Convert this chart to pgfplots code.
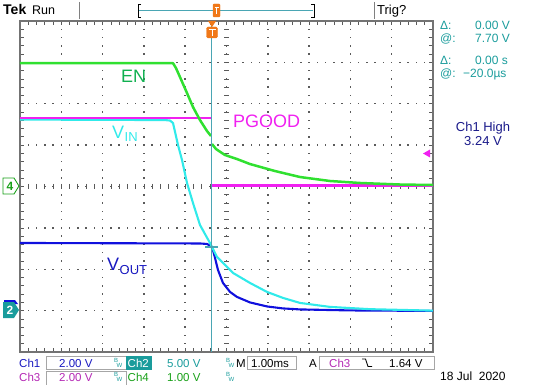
\documentclass[border=0pt]{standalone}
\usepackage{pgfplots}
\pgfplotsset{compat=1.18}
\usepackage{fontspec}
\setmainfont{Liberation Sans}
\definecolor{trgreen}{HTML}{30E030}
\definecolor{lbgreen}{HTML}{10B050}
\definecolor{trmag}{HTML}{F020F0}
\definecolor{trcyan}{HTML}{30EAEA}
\definecolor{trblue}{HTML}{1010DD}
\definecolor{lbblue}{HTML}{1818C0}
\definecolor{tealtx}{HTML}{1A9C9C}
\definecolor{cursorc}{HTML}{4AA6B4}
\definecolor{navy}{HTML}{1A1A8A}
\definecolor{tekorange}{HTML}{F07818}
\definecolor{chfourgreen}{HTML}{18A018}
\definecolor{chthreemag}{HTML}{B428B4}
\definecolor{gridgray}{HTML}{5A5A5A}

% EN before the cursor
\pgfplotstableread{
t v
-5 2.98
-1.295 2.98
-1.223 2.862
-1.126 2.645
-0.956 2.258
-0.811 1.920
-0.642 1.606
-0.472 1.341
-0.375 1.220
}\enA
% EN after the cursor
\pgfplotstableread{
t v
-0.351 1.027
-0.254 0.906
-0.036 0.761
0.254 0.664
0.569 0.543
1.174 0.374
1.780 0.229
2.506 0.133
3.232 0.085
4.200 0.048
5.000 0.036
}\enB
\pgfplotstableread{
t v
-5 1.65
-0.36 1.65
}\pgA
\pgfplotstableread{
t v
-0.36 0.02
5 0.02
}\pgB
\pgfplotstableread{
t v
-5 1.618
-1.489 1.606
-1.368 1.594
-1.295 1.534
-1.174 1.002
-1.077 0.640
-0.956 0.085
-0.811 -0.399
-0.642 -0.930
-0.400 -1.365
-0.230 -1.703
0.157 -2.089
0.569 -2.331
0.981 -2.548
1.368 -2.693
1.780 -2.814
2.506 -2.910
3.475 -2.965
5.000 -3.000
}\vin
\pgfplotstableread{
t v
-5 -1.365
-0.642 -1.377
-0.472 -1.389
-0.375 -1.437
-0.327 -1.534
-0.278 -1.727
-0.206 -2.017
-0.085 -2.331
0.085 -2.548
0.254 -2.669
0.569 -2.802
0.981 -2.899
1.368 -2.947
1.780 -2.971
2.990 -2.995
5.000 -3.007
}\vout

\begin{document}
\begin{tikzpicture}
\path[use as bounding box] (0pt,0pt) rectangle (536pt,-385pt);
% graticule (drawn under the traces)
\begin{scope}[x=1pt,y=1pt]
\foreach \i in {1,...,9} {
  \foreach \k in {1,...,39} {
    \fill[gridgray] ({20+41.3*\i-0.75},{-21-8.275*\k-0.75}) rectangle ++(1.5,1.5);
  }
}
\foreach \j in {1,...,7} {
  \foreach \k in {1,...,49} {
    \fill[gridgray] ({20+8.26*\k-0.75},{-21-41.375*\j-0.75}) rectangle ++(1.5,1.5);
  }
}
% centre-line ticks
\foreach \k in {1,...,49} {
  \draw[gridgray, line width=0.7pt] ({20+8.26*\k},-184) -- ({20+8.26*\k},-189);
}
\foreach \k in {1,...,39} {
  \draw[gridgray, line width=0.7pt] (224,{-21-8.275*\k}) -- (229,{-21-8.275*\k});
}
% frame ticks
\foreach \k in {1,...,49} {
  \draw[gridgray, line width=0.7pt] ({20+8.26*\k},-21) -- ({20+8.26*\k},-25);
  \draw[gridgray, line width=0.7pt] ({20+8.26*\k},-352) -- ({20+8.26*\k},-348);
}
\foreach \k in {1,...,39} {
  \draw[gridgray, line width=0.7pt] (20,{-21-8.275*\k}) -- (24,{-21-8.275*\k});
  \draw[gridgray, line width=0.7pt] (433,{-21-8.275*\k}) -- (429,{-21-8.275*\k});
}
\end{scope}
\begin{axis}[
  at={(20pt,-352pt)}, anchor=south west,
  scale only axis, width=413pt, height=331pt,
  xmin=-5, xmax=5, ymin=-4, ymax=4,
  xtick=\empty, ytick=\empty,
  axis line style={draw=gray!90!black, line width=1.6pt},
  clip=false,
]
\addplot[trblue, line width=2.1pt, line join=round] table[x=t,y=v] {\vout};
\addplot[trcyan, line width=2.1pt, line join=round] table[x=t,y=v] {\vin};
\addplot[trmag, line width=2.5pt] table[x=t,y=v] {\pgA};
\addplot[trmag, line width=2.5pt] table[x=t,y=v] {\pgB};
\addplot[trgreen, line width=2.5pt, line join=round] table[x=t,y=v] {\enA};
\addplot[trgreen, line width=2.5pt, line join=round] table[x=t,y=v] {\enB};
% cursor
\draw[cursorc, line width=1.2pt] (axis cs:-0.36,-4) -- (axis cs:-0.36,4);
\draw[cursorc, line width=1.2pt] (axis cs:-0.52,-1.46) -- (axis cs:-0.2,-1.46);
\end{axis}

\begin{scope}[x=1pt,y=1pt]
% top bar
\node[anchor=base west, inner sep=0pt, font=\fontsize{14}{14}\selectfont\bfseries] at (3,-15) {Tek};
\node[anchor=base west, inner sep=0pt, font=\fontsize{12.5}{14}\selectfont] at (32,-15) {Run};
\draw[gray, line width=0.8pt] (79,-2) -- (79,-19);
\draw[gray, line width=0.8pt] (374,-2) -- (374,-19);
\node[anchor=base west, inner sep=0pt, font=\fontsize{13}{14}\selectfont] at (377,-15) {Trig?};
\draw[black, line width=0.8pt] (141,-4) -- (138,-4) -- (138,-17) -- (141,-17);
\draw[black, line width=0.8pt] (311,-4) -- (314,-4) -- (314,-17) -- (311,-17);
\draw[cursorc, line width=1.4pt] (139,-10.5) -- (313,-10.5);
\filldraw[tekorange, rounded corners=1pt] (213,-4) rectangle (220,-17);
\draw[white, line width=0.8pt] (214.5,-7) -- (218.5,-7) (216.5,-7) -- (216.5,-14);
% trigger marker on graticule
\fill[tekorange] (208,-21) -- (216,-21) -- (212,-27) -- cycle;
\filldraw[tekorange, rounded corners=1.5pt] (206.5,-27) rectangle (217.5,-38);
\draw[white, line width=1pt] (208.5,-30) -- (215.5,-30) (212,-30) -- (212,-36);
% trigger level arrow
\fill[trmag] (423,-153.5) -- (430,-149.5) -- (430,-157.5) -- cycle;
% channel markers
\filldraw[draw=chfourgreen, fill=white, line width=0.9pt] (3,-178) -- (14,-178) -- (19,-186) -- (14,-194) -- (3,-194) -- cycle;
\node[font=\fontsize{12}{12}\selectfont\bfseries, text=chfourgreen, inner sep=0pt] at (10,-186.5) {4};
\fill[trblue] (4,-300) -- (15,-300) -- (18,-304) -- (4,-304) -- cycle;
\fill[tealtx] (3,-302) -- (14,-302) -- (19,-310) -- (14,-318) -- (3,-318) -- cycle;
\node[font=\fontsize{12}{12}\selectfont\bfseries, text=white, inner sep=0pt] at (10,-310.5) {2};
% labels
\node[anchor=base west, inner sep=0pt, font=\fontsize{18}{18}\selectfont, text=lbgreen] at (121,-83) {EN};
\node[anchor=base west, inner sep=0pt, font=\fontsize{18}{18}\selectfont, text=trmag] at (233,-128) {PGOOD};
\node[anchor=base west, inner sep=0pt, font=\fontsize{18}{18}\selectfont, text=trcyan] at (112,-139) {V};
\node[anchor=base west, inner sep=0pt, font=\fontsize{13}{13}\selectfont, text=trcyan] at (124.5,-142) {IN};
\node[anchor=base west, inner sep=0pt, font=\fontsize{18}{18}\selectfont, text=lbblue] at (107,-270) {V};
\node[anchor=base west, inner sep=0pt, font=\fontsize{13}{13}\selectfont, text=lbblue] at (119.5,-274) {OUT};
% right panel
\begin{scope}[every node/.style={anchor=base west, inner sep=0pt, font=\fontsize{12}{12}\selectfont, text=tealtx}]
\node at (440,-30) {Δ:};
\node at (475,-30) {0.00 V};
\node at (440,-43) {@:};
\node at (475,-43) {7.70 V};
\node at (440,-65) {Δ:};
\node at (475,-65) {0.00 s};
\node at (440,-78) {@:};
\node at (463,-78) {−20.0µs};
\end{scope}
\node[anchor=base, inner sep=0pt, font=\fontsize{13}{13}\selectfont, text=navy] at (483,-132) {Ch1 High};
\node[anchor=base, inner sep=0pt, font=\fontsize{13}{13}\selectfont, text=navy] at (483,-146) {3.24 V};
% footer
\draw[gray!70, line width=0.7pt] (46,-356) rectangle (126,-369.5);
\draw[gray!70, line width=0.7pt] (46,-371) rectangle (126,-385);
\draw[gray!70, line width=0.7pt] (247,-356) rectangle (296,-369.5);
\draw[gray!70, line width=0.7pt] (319,-356) rectangle (434,-369.5);
\fill[tealtx] (126,-356) rectangle (152,-369.5);
\begin{scope}[every node/.style={anchor=base west, inner sep=0pt, font=\fontsize{11.5}{12}\selectfont}]
\node[text=lbblue] at (19,-367) {Ch1};
\node[text=lbblue] at (59,-367) {2.00 V};
\node[text=white] at (127.5,-367) {Ch2};
\node[text=tealtx] at (167,-367) {5.00 V};
\node[text=black] at (236,-367) {M};
\node[text=black] at (251,-367) {1.00ms};
\node[text=black] at (309,-367) {A};
\node[text=chthreemag] at (329,-367) {Ch3};
\node[text=black] at (389,-367) {1.64 V};
\node[text=chthreemag] at (19,-381) {Ch3};
\node[text=chthreemag] at (59,-381) {2.00 V};
\node[text=chfourgreen] at (127.5,-381) {Ch4};
\node[text=chfourgreen] at (167,-381) {1.00 V};
\node[text=black, font=\fontsize{12}{12}\selectfont] at (440,-380) {18 Jul \ 2020};
\end{scope}
\draw[black, line width=0.8pt] (362,-359) -- (365.5,-359) -- (368,-366.5) -- (372,-366.5);
\begin{scope}[every node/.style={inner sep=0pt, font=\fontsize{6}{6}\selectfont, text=tealtx}]
\node at (116,-360) {B}; \node at (119.5,-365) {W};
\node at (116,-374) {B}; \node at (119.5,-379) {W};
\node at (228,-360) {B}; \node at (231.5,-365) {W};
\node at (228,-374) {B}; \node at (231.5,-379) {W};
\end{scope}
\end{scope}
\end{tikzpicture}
\end{document}
